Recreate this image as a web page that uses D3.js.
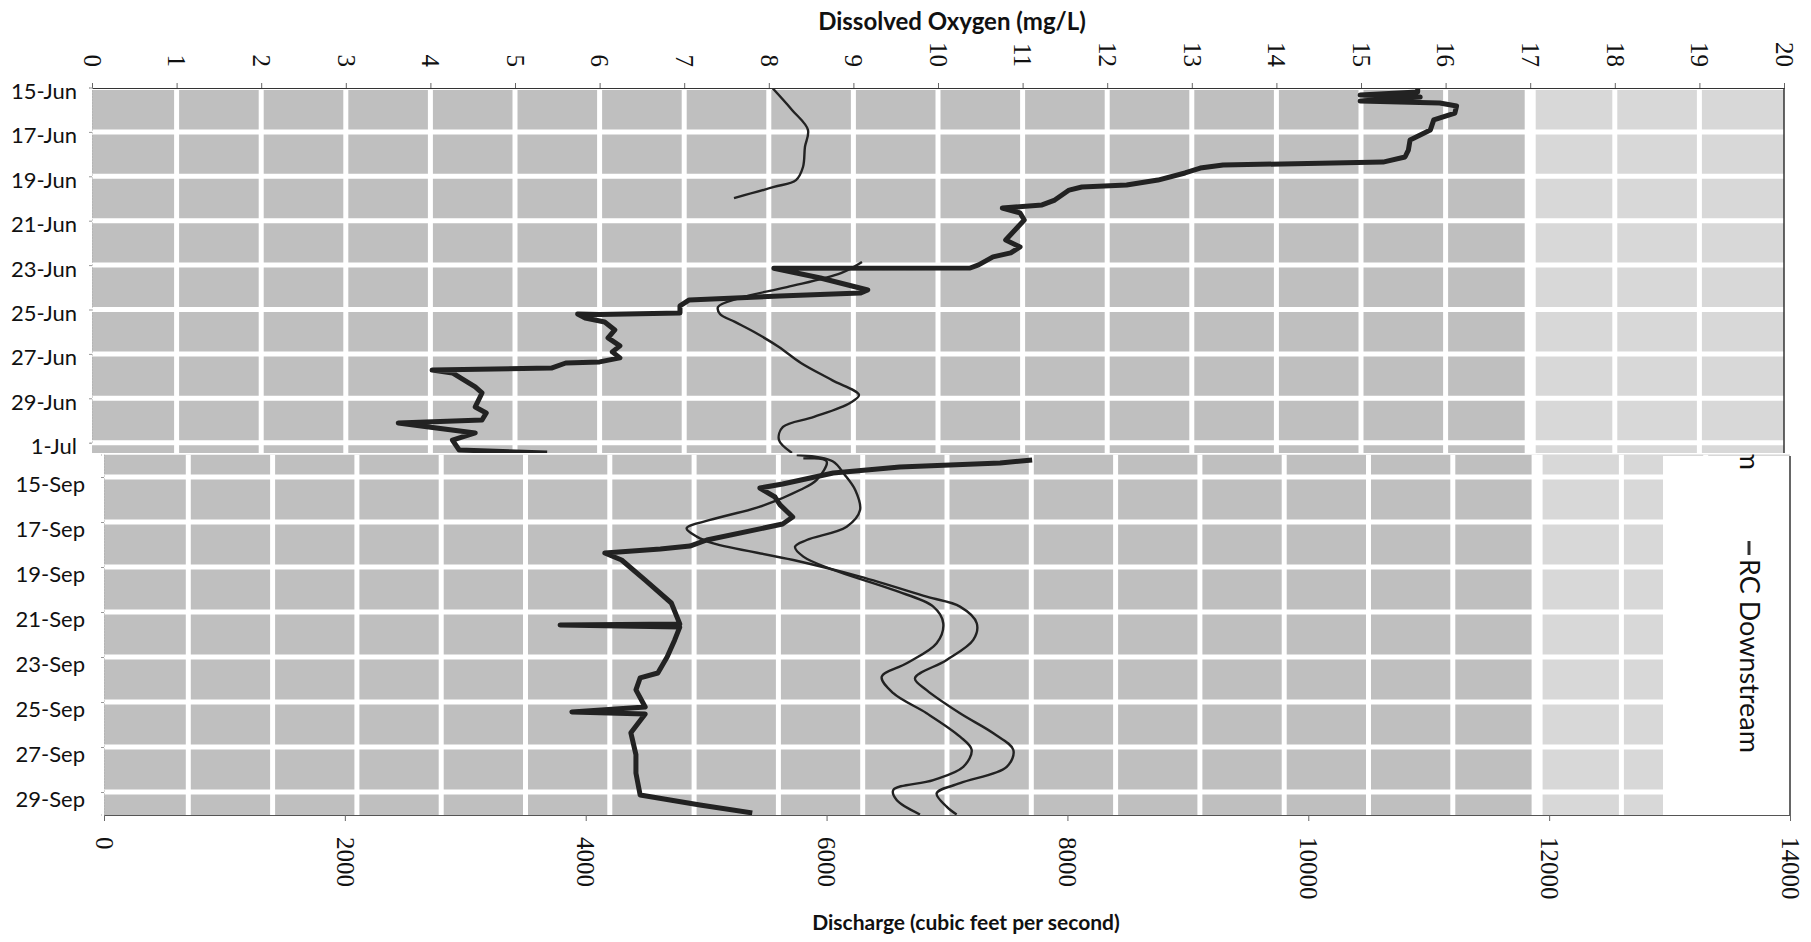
<!DOCTYPE html>
<html><head><meta charset="utf-8">
<script src="https://cdn.jsdelivr.net/npm/d3@7"></script>
<style>body{margin:0;background:#fff}svg{display:block}</style>
</head><body>
<svg id="c" width="1811" height="942"></svg>
<script>
// ---------------- DATA ----------------
const doTickValues = [0,1,2,3,4,5,6,7,8,9,10,11,12,13,14,15,16,17,18,19,20];
const dischargeTickValues = [0,2000,4000,6000,8000,10000,12000,14000];
const junTickDays = [0,2,4,6,8,10,12,14,16];          // days after 15-Jun
const junTickLabels = ["15-Jun","17-Jun","19-Jun","21-Jun","23-Jun","25-Jun","27-Jun","29-Jun","1-Jul"];
const sepTickDays = [1,3,5,7,9,11,13,15];              // days after 14-Sep
const sepTickLabels = ["15-Sep","17-Sep","19-Sep","21-Sep","23-Sep","25-Sep","27-Sep","29-Sep"];
const legendLabels = ["RC Upstream","RC Downstream"];
const topAxisTitle = "Dissolved Oxygen (mg/L)";
const bottomAxisTitle = "Discharge (cubic feet per second)";

// June panel: dissolved oxygen (mg/L), [day after 15-Jun, value]
const junDO = [[0,15.67],[0.20,15.67],[0.34,14.99],[0.43,15.70],[0.61,14.99],[0.70,15.93],[0.83,16.13],
 [1.15,16.11],[1.46,15.86],[1.91,15.82],[2.36,15.58],[2.82,15.56],[3.13,15.52],[3.36,15.26],[3.49,13.37],
 [3.63,13.10],[3.85,12.92],[4.17,12.60],[4.39,12.23],[4.48,11.70],[4.62,11.55],[5.07,11.38],[5.29,11.23],
 [5.43,10.76],[5.65,10.97],[5.97,11.02],[6.42,10.91],[6.87,10.80],[7.18,10.97],[7.45,10.86],[7.63,10.65],
 [7.99,10.48],[8.13,10.38],[8.14,8.06],[8.58,8.61],[9.12,9.17],[9.26,9.08],[9.39,8.13],[9.57,7.06],
 [9.84,6.95],[10.16,6.95],[10.22,6.00],[10.20,5.74],[10.38,5.83],[10.56,6.06],[10.92,6.18],[11.28,6.10],
 [11.64,6.24],[11.91,6.15],[12.18,6.24],[12.36,6.00],[12.41,5.60],[12.64,5.43],[12.73,4.02],[12.86,4.26],
 [13.49,4.53],[13.76,4.61],[14.39,4.53],[14.66,4.66],[14.98,4.61],[15.11,3.62],[15.29,3.98],[15.56,4.53],
 [15.88,4.26],[16.33,4.34],[16.46,5.38]];
// June panel: discharge (cfs)
const junQ1 = [[0,5626],[1.01,5792],[1.91,5924],[2.68,5899],[3.58,5883],[4.17,5825],[4.48,5643],[4.98,5312]];
const junQ2 = [[7.86,6371],[8.36,6197],[8.99,5750],[9.48,5362],[9.89,5180],[10.20,5196],[10.56,5320],
 [11.06,5494],[11.69,5684],[12.41,5866],[13.18,6123],[13.85,6346],[14.21,6272],[14.84,5974],[15.29,5717],
 [15.88,5684],[16.46,5792]];
// September panel: dissolved oxygen (mg/L), [day after 14-Sep, value]
const sepDO = [[0.24,11.01],[0.38,10.63],[0.56,9.44],[0.82,8.65],[1.31,8.05],[1.49,7.78],[1.89,7.96],
 [2.24,8.02],[2.78,8.17],[3.09,8.05],[3.80,7.15],[4.07,6.95],[4.20,6.60],[4.38,5.94],[4.69,6.14],[5.58,6.42],
 [6.60,6.73],[7.53,6.83],[7.58,5.41],[7.67,6.83],[8.24,6.77],[9.00,6.68],[9.71,6.57],[9.93,6.36],[10.46,6.31],
 [11.22,6.42],[11.44,5.55],[11.53,6.42],[12.37,6.25],[13.34,6.31],[14.16,6.31],[15.13,6.36],[15.58,7.07],
 [15.93,7.69]];
// September panel: discharge (cfs)
const sepQA = [[0.17,5807],[0.30,6000],[1.13,5918],[1.58,5779],[2.32,5447],[2.91,5032],[3.28,4838],
 [3.65,4922],[3.95,5060],[4.69,5724],[5.43,6278],[6.32,6831],[6.76,7108],[7.50,7247],[8.24,7218],[9.13,6997],
 [9.95,6734],[10.47,6831],[11.50,7108],[12.39,7385],[13.13,7551],[13.88,7496],[14.61,7108],[15.06,6914],
 [15.65,6997],[16.0,7080]];
const sepQB = [[0.02,5752],[0.30,6050],[0.90,6150],[1.60,6240],[2.47,6278],[3.21,6167],[3.80,5835],
 [4.10,5738],[4.54,5807],[5.13,6056],[6.02,6554],[6.76,6886],[7.50,6969],[8.39,6914],[9.28,6665],[9.88,6458],
 [10.61,6554],[11.50,6831],[12.54,7108],[13.13,7205],[13.88,7135],[14.47,6886],[14.91,6554],[15.36,6582],
 [16.0,6776]];

// ---------------- CHART ----------------
const svg = d3.select("#c");
const DAY = 864e5;
const junBase = Date.UTC(2012,5,15), sepBase = Date.UTC(2012,8,14);
const jd = d => new Date(junBase + d*DAY), sd = d => new Date(sepBase + d*DAY);

const TOP = {x0:92, x1:1784, y0:88, y1:453};
const BOT = {x0:104, x1:1790, y0:454.5, y1:815};

const yTop = d3.scaleUtc().domain([jd(0), jd(16)]).range([87.5, 87.5+16*22.2]);
const yBot = d3.scaleUtc().domain([sd(0), sd(16)]).range([454.5, 814.5]);
const xDOtop = d3.scaleLinear().domain([0,20]).range([TOP.x0, TOP.x1]);
const xQtop  = d3.scaleLinear().domain([0,14000]).range([TOP.x0, TOP.x1]);
const xDObot = d3.scaleLinear().domain([0,20]).range([BOT.x0, BOT.x1]);
const xQbot  = d3.scaleLinear().domain([0,14000]).range([BOT.x0, BOT.x1]);

const GRAY = "#bfbfbf", LIGHT = "#d8d8d8", LINE = "#222";
const labelFont = "Lato, 'Open Sans', sans-serif";
const tickFont = "'Liberation Serif', 'DejaVu Serif', serif";

const defs = svg.append("defs");
defs.append("clipPath").attr("id","clipBot").append("rect")
  .attr("x",BOT.x0).attr("y",BOT.y0).attr("width",BOT.x1-BOT.x0).attr("height",BOT.y1-BOT.y0);
defs.append("clipPath").attr("id","clipTop").append("rect")
  .attr("x",TOP.x0).attr("y",TOP.y0).attr("width",TOP.x1-TOP.x0).attr("height",TOP.y1-TOP.y0);

function drawPanel(P, xDO, yS, gridDays, toDate, clipId){
  const g = svg.append("g").attr("clip-path", `url(#${clipId})`);
  g.append("rect").attr("x",P.x0).attr("y",P.y0).attr("width",P.x1-P.x0).attr("height",P.y1-P.y0).attr("fill",GRAY);
  g.append("rect").attr("x",xDO(17)).attr("y",P.y0).attr("width",P.x1-xDO(17)).attr("height",P.y1-P.y0).attr("fill",LIGHT);
  g.selectAll("line.v").data(doTickValues.filter(v=>v>0 && v<20)).join("line")
    .attr("x1",d=>xDO(d)).attr("x2",d=>xDO(d)).attr("y1",P.y0).attr("y2",P.y1)
    .attr("stroke","#fff").attr("stroke-width",d=>d===17?11:5);
  g.selectAll("line.h").data(gridDays).join("line")
    .attr("x1",P.x0).attr("x2",P.x1).attr("y1",d=>yS(toDate(d))).attr("y2",d=>yS(toDate(d)))
    .attr("stroke","#fff").attr("stroke-width",5);
  return g;
}

// ---- bottom (September) panel ----
const gb = drawPanel(BOT, xDObot, yBot, sepTickDays, sd, "clipBot");
const thinB = d3.line().x(d=>xQbot(d[1])).y(d=>yBot(sd(d[0]))).curve(d3.curveCatmullRom.alpha(0.5));
const thickB = d3.line().x(d=>xDObot(d[1])).y(d=>yBot(sd(d[0])));
[sepQA, sepQB].forEach(s => gb.append("path").attr("d",thinB(s)).attr("fill","none")
  .attr("stroke",LINE).attr("stroke-width",2.4));
gb.append("path").attr("d",thickB(sepDO)).attr("fill","none").attr("stroke",LINE)
  .attr("stroke-width",5).attr("stroke-linejoin","round");
// legend box (the upper entry is mostly hidden behind the June panel, as in the source)
const lg = gb.append("g");
lg.append("rect").attr("x",1663).attr("y",456).attr("width",127).attr("height",359).attr("fill","#fff");
lg.append("text").attr("transform","translate(1749,470) rotate(90)").attr("text-anchor","end").attr("dy","0.35em")
  .attr("font-family",labelFont).attr("font-size",27).attr("fill","#111").text(legendLabels[0]);
lg.append("line").attr("x1",1749).attr("x2",1749).attr("y1",541).attr("y2",555).attr("stroke","#333").attr("stroke-width",3);
lg.append("text").attr("transform","translate(1749,559) rotate(90)").attr("text-anchor","start").attr("dy","0.35em")
  .attr("font-family",labelFont).attr("font-size",27).attr("fill","#111").text(legendLabels[1]);
svg.append("line").attr("x1",1790).attr("x2",1790).attr("y1",456).attr("y2",815).attr("stroke","#333").attr("stroke-width",1.5);

// bottom axis (discharge)
const axB = svg.append("g").attr("transform",`translate(0,${BOT.y1})`)
  .call(d3.axisBottom(xQbot).tickValues(dischargeTickValues).tickSize(6).tickFormat(d3.format("d")));
axB.select(".domain").attr("stroke","#555");
axB.selectAll(".tick line").attr("stroke","#666");
axB.selectAll(".tick text").attr("transform","translate(0,22) rotate(90)").attr("y",0).attr("x",0)
  .attr("dy","0.35em").attr("text-anchor","start")
  .attr("font-family",tickFont).attr("font-size",25).attr("fill","#111");
// left date axis (Sep)
const axBL = svg.append("g").attr("transform",`translate(${BOT.x0},0)`)
  .call(d3.axisLeft(yBot).tickValues(sepTickDays.map(sd)).tickSize(3).tickFormat((d,i)=>sepTickLabels[i]));
axBL.select(".domain").attr("stroke","#aaa").attr("stroke-dasharray","1,2");
axBL.selectAll(".tick line").attr("stroke","#999");
axBL.selectAll(".tick text").attr("x",-19).attr("dy","0.32em").attr("transform","translate(0,7)")
  .attr("font-family",labelFont).attr("font-size",22).attr("fill","#111");

// ---- top (June) panel ----
const gt = drawPanel(TOP, xDOtop, yTop, junTickDays, jd, "clipTop");
const thinT = d3.line().x(d=>xQtop(d[1])).y(d=>yTop(jd(d[0]))).curve(d3.curveCatmullRom.alpha(0.5));
const thickT = d3.line().x(d=>xDOtop(d[1])).y(d=>yTop(jd(d[0])));
[junQ1, junQ2].forEach(s => gt.append("path").attr("d",thinT(s)).attr("fill","none")
  .attr("stroke",LINE).attr("stroke-width",2.4));
gt.append("path").attr("d",thickT(junDO)).attr("fill","none").attr("stroke",LINE)
  .attr("stroke-width",5).attr("stroke-linejoin","round");
svg.append("line").attr("x1",TOP.x1).attr("x2",TOP.x1).attr("y1",TOP.y0).attr("y2",TOP.y1).attr("stroke","#333").attr("stroke-width",1.5);

// top axis (DO)
const axT = svg.append("g").attr("transform",`translate(0,${TOP.y0})`)
  .call(d3.axisTop(xDOtop).tickValues(doTickValues).tickSize(5).tickFormat(d3.format("d")));
axT.select(".domain").attr("stroke","#333");
axT.selectAll(".tick line").attr("stroke","#666");
axT.selectAll(".tick text").attr("transform","translate(0,-21) rotate(90)").attr("y",0).attr("x",0)
  .attr("dy","0.35em").attr("text-anchor","end")
  .attr("font-family",tickFont).attr("font-size",25).attr("fill","#111");
// left date axis (Jun)
const axTL = svg.append("g").attr("transform",`translate(${TOP.x0},0)`)
  .call(d3.axisLeft(yTop).tickValues(junTickDays.map(jd)).tickSize(3).tickFormat((d,i)=>junTickLabels[i]));
axTL.select(".domain").attr("stroke","#aaa").attr("stroke-dasharray","1,2");
axTL.selectAll(".tick line").attr("stroke","#999");
axTL.selectAll(".tick text").attr("x",-15).attr("dy","0.32em").attr("transform","translate(0,4)")
  .attr("font-family",labelFont).attr("font-size",22).attr("fill","#111");

// titles
svg.append("text").attr("x",952).attr("y",30).attr("text-anchor","middle")
  .attr("font-family",labelFont).attr("font-weight","bold").attr("font-size",24).attr("fill","#111").text(topAxisTitle);
svg.append("text").attr("x",966).attr("y",930).attr("text-anchor","middle")
  .attr("font-family",labelFont).attr("font-weight","bold").attr("font-size",21).attr("fill","#111").text(bottomAxisTitle);
</script>
</body></html>
